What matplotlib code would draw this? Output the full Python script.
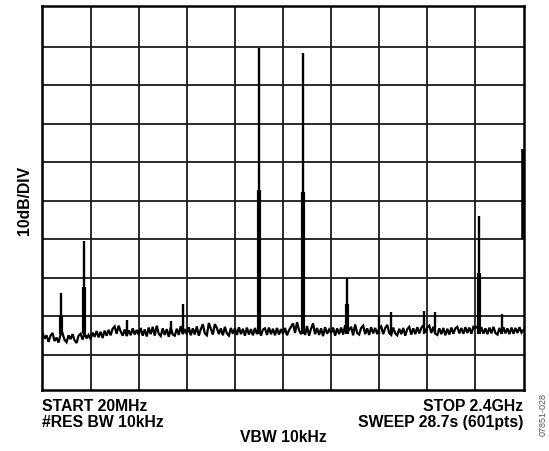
import numpy as np
import matplotlib
matplotlib.use("Agg")
import matplotlib.pyplot as plt

plt.rcParams['font.family'] = ['Liberation Sans', 'DejaVu Sans']

# sweep 20MHz .. 2.4GHz, 10dB/div, top of screen = 0dB
start_mhz = 20
stop_mhz = 2400

# noise floor, 24 readings per division (dB)
noise_db = [
    -84.2, -85.8, -84.9, -86.6, -85.0, -84.3, -86.4, -85.5, -86.8, -84.7, -84.4, -86.1,
    -86.7, -84.9, -85.9, -84.6, -86.2, -86.9, -85.0, -84.5, -86.0, -84.3, -85.7, -84.8,
    -85.9, -84.2, -85.3, -83.8, -85.4, -84.0, -85.6, -83.7, -85.0, -83.5, -84.9, -83.2,
    -82.6, -84.5, -82.4, -83.9, -85.0, -83.4, -85.1, -83.6, -84.9, -83.1, -84.7, -83.5,
    -84.8, -83.0, -85.0, -83.4, -85.2, -82.9, -84.6, -82.7, -85.0, -82.4, -84.5, -85.1,
    -83.1, -84.8, -83.3, -85.3, -82.9, -84.7, -85.0, -83.2, -84.8, -82.5, -84.6, -83.3,
    -84.6, -82.8, -84.9, -83.1, -84.7, -82.6, -85.0, -83.3, -82.0, -84.4, -84.9, -81.7,
    -83.2, -84.7, -82.0, -83.0, -84.6, -83.1, -84.9, -82.7, -84.4, -85.0, -83.0, -84.5,
    -83.1, -84.8, -82.8, -84.6, -83.2, -85.0, -82.9, -84.7, -83.3, -84.9, -83.0, -84.6,
    -82.7, -85.0, -83.4, -83.1, -84.8, -82.9, -84.6, -83.2, -84.9, -83.0, -84.7, -83.3,
    -84.5, -83.0, -84.9, -83.6, -82.7, -81.8, -84.3, -81.5, -83.6, -84.6, -83.1, -84.8,
    -82.5, -85.0, -83.2, -81.8, -84.6, -83.0, -84.8, -83.1, -85.1, -82.8, -84.5, -83.4,
    -84.3, -82.9, -85.0, -83.1, -84.6, -82.9, -84.7, -82.3, -84.2, -83.5, -82.7, -84.9,
    -82.1, -84.3, -84.7, -83.0, -82.4, -84.6, -83.1, -84.8, -82.8, -84.4, -83.0, -84.6,
    -83.1, -82.6, -84.6, -83.0, -82.2, -84.3, -84.8, -82.9, -84.4, -84.9, -83.2, -84.6,
    -83.0, -85.0, -83.3, -82.7, -84.7, -83.1, -84.6, -82.8, -84.4, -83.0, -82.3, -84.2,
    -82.9, -82.4, -84.3, -82.7, -84.5, -84.8, -83.1, -84.6, -83.0, -84.9, -83.2, -84.7,
    -82.9, -84.5, -83.1, -82.7, -84.4, -83.0, -84.5, -82.8, -84.3, -82.9, -84.5, -82.7,
    -83.0, -82.6, -84.4, -82.8, -84.5, -83.1, -84.6, -82.9, -84.4, -82.7, -84.3, -84.7,
    -83.0, -84.5, -82.8, -84.4, -83.1, -84.6, -82.9, -84.5, -83.0, -84.3, -82.8, -84.2,
    -83.5,
]

# spurs / tones: frequency (MHz), peak (dB), level of the neighbouring bins (dB)
peak_mhz = [112, 224, 436, 658, 715, 1091, 1310, 1529, 1686, 1745, 1907, 1962, 2179, 2293]
peak_db = [-73.9, -60.4, -80.9, -81.1, -76.8, -10.3, -11.6, -69.9, -79.8, -78.9, -78.5, -78.9, -54.0, -79.4]
shoulder_db = [-79.8, -72.3, None, None, None, -47.3, -47.6, -76.8, None, None, None, None, -68.7, None]
floor_db = -84.5

# stray segment drawn on the right edge of the screen
edge_lo_db = -59.9
edge_hi_db = -36.5

freq = np.linspace(start_mhz, stop_mhz, len(noise_db))

W, H = 549, 452
fig = plt.figure(figsize=(W / 100, H / 100), dpi=100)
ax = fig.add_axes([42.5 / W, 1 - 391 / H, 481 / W, (391 - 7.3) / H])

ax.plot(freq, noise_db, color="black", lw=1.6, solid_joinstyle="miter")
ax.vlines(peak_mhz, floor_db, peak_db, color="black", lw=1.7)
sh_f = [f for f, s in zip(peak_mhz, shoulder_db) if s is not None]
sh_v = [s for s in shoulder_db if s is not None]
ax.vlines(sh_f, floor_db, sh_v, color="black", lw=3.0)
ax.vlines(stop_mhz - 1, edge_lo_db, edge_hi_db, color="black", lw=2.6)

div = (stop_mhz - start_mhz) / 10
ax.set_xlim(start_mhz, stop_mhz)
ax.set_ylim(-99.1, 0.5)
ax.set_xticks([start_mhz + i * div for i in range(1, 10)])
ax.set_yticks(range(-90, 0, 10))
ax.grid(True, color="#1a1a1a", lw=1.3)
ax.tick_params(length=0, labelbottom=False, labelleft=False)
for sp in ax.spines.values():
    sp.set_linewidth(1.8)
    sp.set_color("black")

def px(x, y):
    return x / W, 1 - y / H

kw = dict(fontsize=11.3, fontweight="bold", va="baseline")
fig.text(*px(42.5, 410.7), "START 20MHz", ha="left", **kw)
fig.text(*px(42.5, 426.7), "#RES BW 10kHz", ha="left", **kw)
fig.text(*px(283, 441.7), "VBW 10kHz", ha="center", **kw)
fig.text(*px(523.5, 411), "STOP 2.4GHz", ha="right", **kw)
fig.text(*px(523.5, 426.7), "SWEEP 28.7s (601pts)", ha="right", **kw)
fig.text(*px(24.5, 200), "10dB/DIV", ha="center", va="center", rotation=90,
         fontsize=11.3, fontweight="bold")
fig.text(*px(543, 393), "07851-028", ha="center", va="top", rotation=90,
         fontsize=6.5, color="#555555")

fig.savefig("out.png", dpi=100)
